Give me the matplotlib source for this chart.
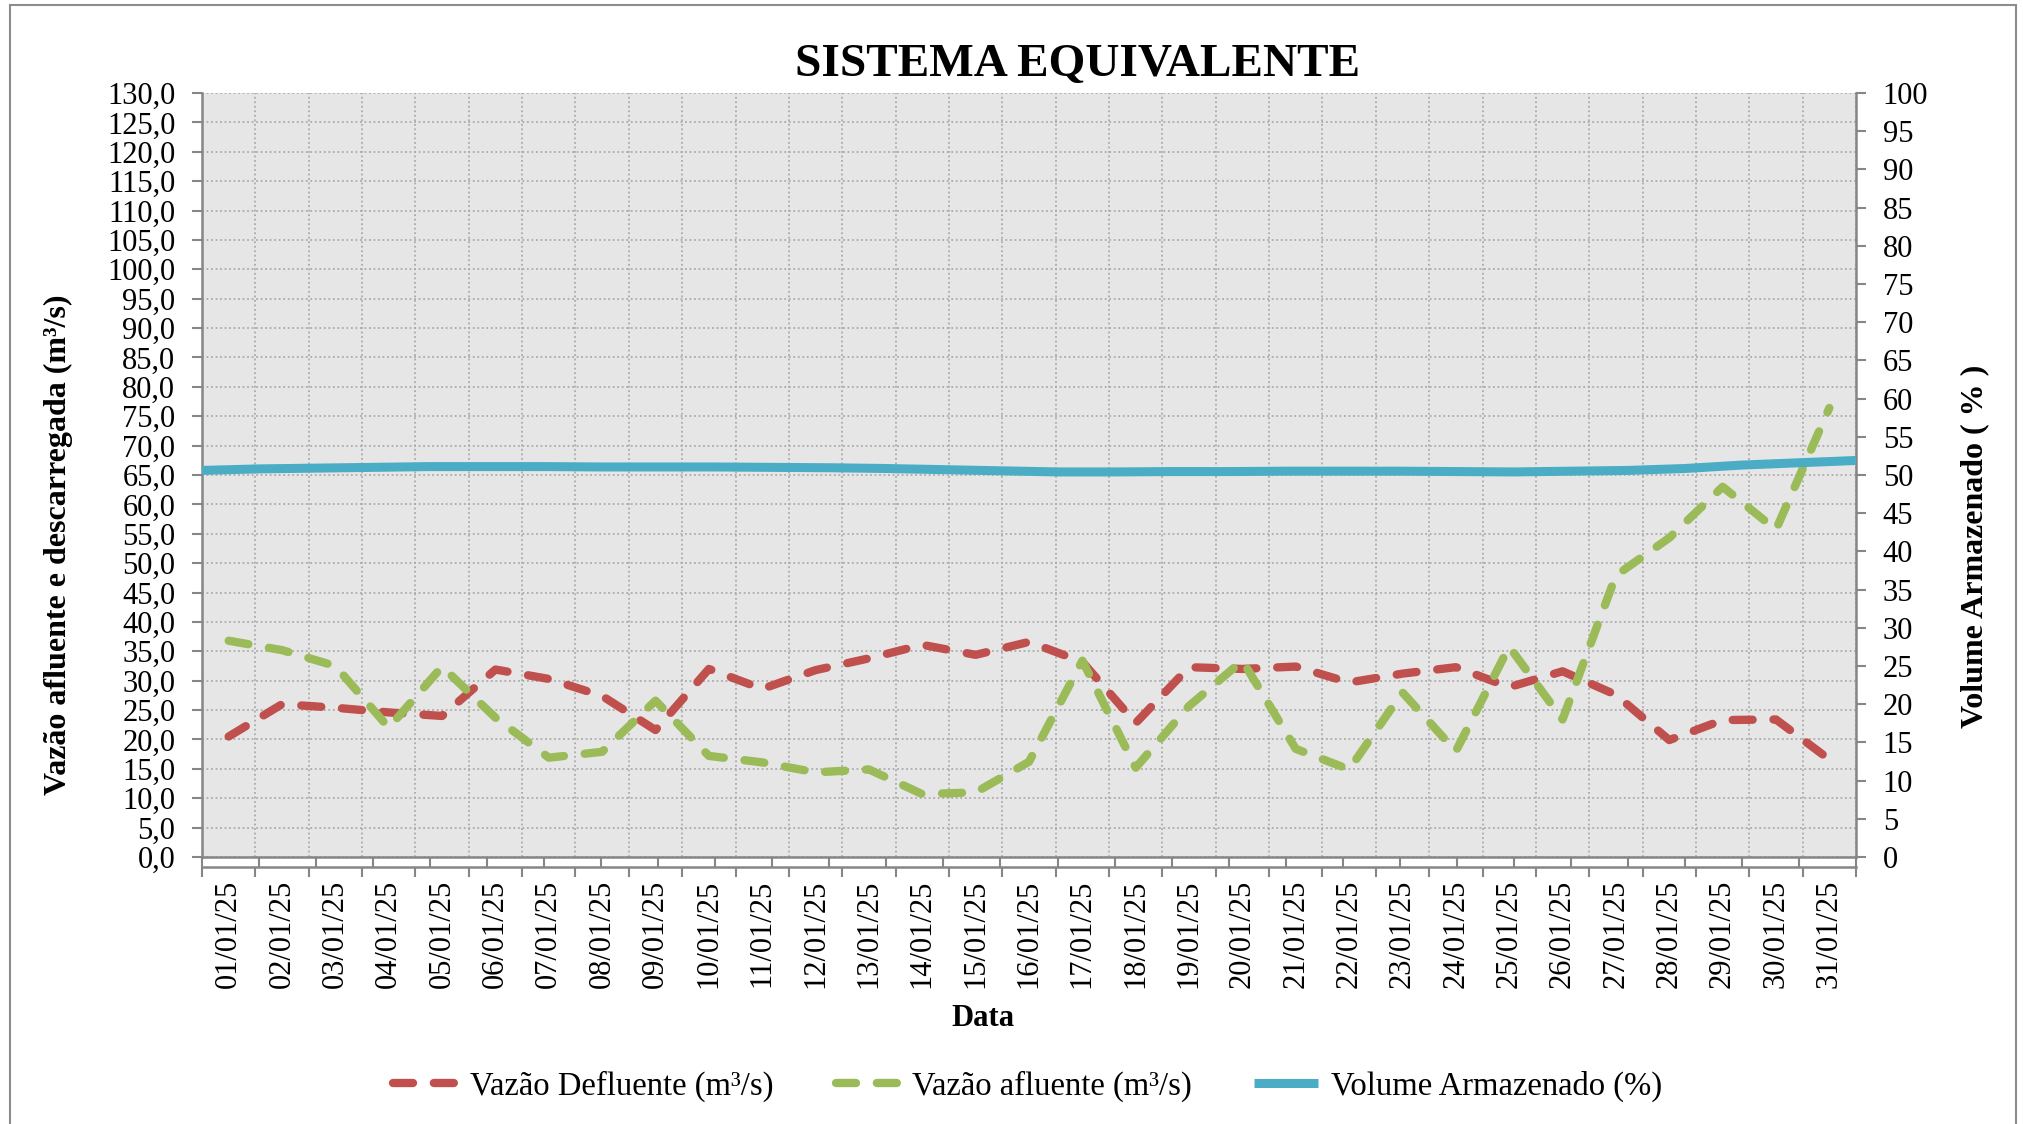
import numpy as np
import matplotlib
matplotlib.use("Agg")
import matplotlib.pyplot as plt
from matplotlib.ticker import FuncFormatter, MultipleLocator
from matplotlib.patches import Rectangle

plt.rcParams['font.family'] = ['Liberation Serif', 'DejaVu Serif']

# dados
datas = [f"{d:02d}/01/25" for d in range(1, 32)]
vazao_defluente = [20.5, 26.0, 25.4, 24.6, 24.0, 31.9, 30.3, 27.4, 21.6, 32.0, 28.6,
                   31.8, 33.8, 36.1, 34.4, 36.6, 33.2, 22.8, 32.3, 32.0, 32.4, 29.7,
                   31.2, 32.3, 28.9, 31.6, 27.6, 19.9, 23.3, 23.4, 16.6]
vazao_afluente = [36.8, 35.2, 32.5, 22.0, 32.4, 23.7, 16.9, 17.9, 26.6, 17.2, 16.1,
                  14.4, 14.9, 10.7, 11.0, 16.2, 33.4, 15.2, 25.7, 33.4, 18.4, 14.9,
                  28.0, 18.0, 35.8, 23.4, 47.9, 54.3, 63.0, 55.7, 76.4]
# volume armazenado tem 30 pontos, eixo secundario "sobre as marcas"
volume = [50.6, 50.8, 50.9, 51.0, 51.1, 51.1, 51.1, 51.05, 51.05, 51.05,
          51.0, 50.95, 50.85, 50.7, 50.55, 50.4, 50.4, 50.45, 50.45, 50.5,
          50.5, 50.5, 50.45, 50.4, 50.5, 50.6, 50.85, 51.3, 51.6, 51.9]

legendas = ['Vazão Defluente (m³/s)', 'Vazão afluente (m³/s)', 'Volume Armazenado (%)']
cores = ['#c0504d', '#9bbb59', '#4bacc6']
cinza = '#868686'
fs = 22

fig = plt.figure(figsize=(20.23, 11.24), dpi=100)
rect = [202 / 2023, 267 / 1124, 1654 / 2023, 764 / 1124]

ax = fig.add_axes(rect)
ax.set_facecolor('#e6e6e6')
x = np.arange(len(datas))
tracejado = (0, (2.4, 2.5))
l1, = ax.plot(x, vazao_defluente, color=cores[0], lw=6, ls=tracejado,
              dash_capstyle='round', zorder=3)
l2, = ax.plot(x, vazao_afluente, color=cores[1], lw=6, ls=tracejado,
              dash_capstyle='round', zorder=3)
ax.set_xlim(-0.5, len(datas) - 0.5)
ax.set_ylim(0, 130)
ax.yaxis.set_major_locator(MultipleLocator(5))
ax.yaxis.set_major_formatter(FuncFormatter(lambda v, p: f"{v:.1f}".replace('.', ',')))
ax.set_xticks(np.arange(-0.5, len(datas)))
ax.set_xticklabels([])
ax.set_xticks(x, minor=True)
ax.set_xticklabels(datas, minor=True)
ax.tick_params(axis='x', which='major', length=7.2, width=1.5, color=cinza, direction='out')
ax.tick_params(axis='x', which='minor', length=0, pad=9, labelsize=fs, labelrotation=90)
ax.tick_params(axis='y', length=7.2, width=1.5, color=cinza, pad=12, labelsize=fs)
ax.yaxis.tick_left()
ax.grid(True, which='major', color='#ababab', ls=(0, (1, 1.5)), lw=1.3)
ax.set_axisbelow(True)
for s in ['top', 'right']:
    ax.spines[s].set_visible(False)
for s in ['left', 'bottom']:
    ax.spines[s].set_color(cinza)
    ax.spines[s].set_linewidth(1.8)
ax.spines['bottom'].set_position(('outward', 7.2))

ax2 = fig.add_axes(rect, facecolor='none')
l3, = ax2.plot(np.arange(len(volume)), volume, color=cores[2], lw=6.5,
               solid_capstyle='butt', zorder=4)
ax2.set_xlim(0, len(volume) - 1)
ax2.set_ylim(0, 100)
ax2.yaxis.tick_right()
ax2.yaxis.set_major_locator(MultipleLocator(5))
ax2.set_xticks(np.arange(len(volume)))
ax2.set_xticklabels([])
ax2.tick_params(axis='x', length=7.2, width=1.5, color=cinza, direction='out')
ax2.tick_params(axis='y', length=7.2, width=1.5, color=cinza, pad=12, labelsize=fs)
for s in ['top', 'left']:
    ax2.spines[s].set_visible(False)
for s in ['right', 'bottom']:
    ax2.spines[s].set_color(cinza)
    ax2.spines[s].set_linewidth(1.8)

fig.text(1078 / 2023, 1 - 65 / 1124, 'SISTEMA EQUIVALENTE', ha='center', va='center',
         fontsize=34, fontweight='bold')
fig.text(58 / 2023, 0.515, 'Vazão afluente e descarregada (m³/s)', rotation=90,
         ha='center', va='center', fontsize=23, fontweight='bold')
fig.text(1975 / 2023, 0.514, 'Volume Armazenado ( % )', rotation=90,
         ha='center', va='center', fontsize=23, fontweight='bold')
fig.text(983 / 2023, 1 - 1019 / 1124, 'Data', ha='center', va='center',
         fontsize=fs, fontweight='bold')

fig.legend([l1, l2, l3], legendas, loc='center', bbox_to_anchor=(0.508, 1 - 1086 / 1124),
           ncol=3, frameon=False, fontsize=23.5, handlelength=1.95, handletextpad=0.4,
           columnspacing=1.9)

fig.add_artist(Rectangle((10 / 2023, -0.01), 2006 / 2023, 1.01 - 5 / 1124,
                         transform=fig.transFigure, fill=False, edgecolor='#8c8c8c', lw=1.5))

fig.savefig('out.png', dpi=100)
